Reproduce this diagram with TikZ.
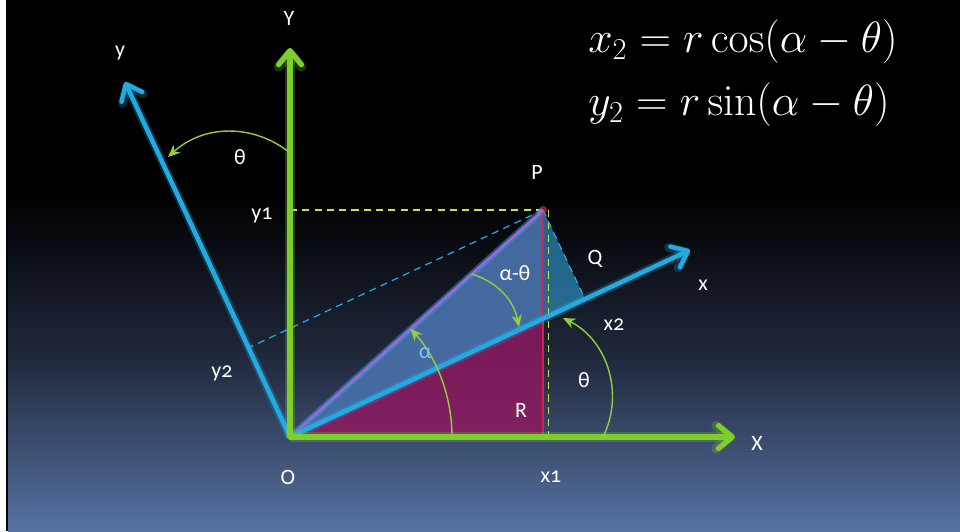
\documentclass[tikz,border=0pt]{standalone}
\usepackage{amsmath}
\usepackage[no-math]{fontspec}
\setmainfont{Carlito}[Numbers=OldStyle]
\usetikzlibrary{positioning,arrows.meta}

\definecolor{axgreen}{RGB}{125,205,45}
\definecolor{axblue}{RGB}{35,170,225}
\definecolor{arcgreen}{RGB}{150,205,60}
\definecolor{dashyel}{RGB}{205,225,70}
\definecolor{triMag}{RGB}{140,25,95}
\definecolor{triBlue}{RGB}{45,140,190}
\definecolor{edgered}{RGB}{215,30,85}
\definecolor{oppurple}{RGB}{175,95,215}
\definecolor{alphablue}{RGB}{130,195,235}
\definecolor{bgmid}{RGB}{30,38,56}
\definecolor{bgbot}{RGB}{86,114,162}

\begin{document}
\begin{tikzpicture}[x=0.02cm, y=0.02cm,
    asse/.style={line width=3pt, line cap=round, -{Straight Barb[length=8pt,width=13pt,round]}},
    assefisso/.style={asse, draw=axgreen, preaction={draw=axgreen, opacity=0.25, line width=5.5pt}},
    asseruot/.style={asse, draw=axblue, line width=2.6pt, preaction={draw=axblue, opacity=0.25, line width=5pt}},
    proj/.style={dashed, line width=0.7pt, dash pattern=on 4pt off 3pt},
    angolo/.style={draw=arcgreen, line width=0.8pt, -{Stealth[length=7pt,width=6pt]}},
    lab/.style={text=white, font=\fontsize{12.5}{14}\selectfont, inner sep=1pt},
    eq/.style={text=white, anchor=west, font=\fontsize{23}{27}\selectfont, inner sep=0pt}]

    % sfondo
    \useasboundingbox (0,-531) rectangle (960,0);
    \fill[white] (0,-531) rectangle (6,0);
    \fill[black] (6,-531) rectangle (960,0);
    \shade[top color=black, bottom color=bgmid] (8,-350) rectangle (960,-195);
    \shade[top color=bgmid, bottom color=bgbot] (8,-531) rectangle (960,-350);

    \coordinate (O) at (290,-437);
    \coordinate (Xt) at (735,-437);
    \coordinate (Yt) at (290,-48);
    \coordinate (xt) at (690,-250);
    \coordinate (yt) at (125,-82);
    \coordinate (P) at (543,-210);
    \coordinate (Q) at (585,-299);
    \coordinate (F) at (543,-437);
    \coordinate (Y1) at (290,-210);
    \coordinate (Y2) at (248,-348);

    % triangoli
    \fill[triMag, opacity=0.85] (O) -- (F) -- (P) -- cycle;
    \fill[triBlue, opacity=0.7] (O) -- (Q) -- (P) -- cycle;

    % proiezioni
    \draw[proj, dashyel] (Y1) -- (P);
    \draw[proj, dashyel] ([xshift=3]P) -- ([xshift=3]F);
    \draw[proj, axblue] (P) -- (Y2);
    \draw[proj, axblue] (P) -- (Q);

    \draw[edgered, line width=1.2pt] (O) -- (F) -- (P);
    \fill[edgered, opacity=0.7] (P) circle (4);
    \draw[oppurple, line width=1.3pt, preaction={draw=axblue, opacity=0.5, line width=3.5pt}] (O) -- (P);

    % assi
    \draw[asseruot] (O) -- (xt);
    \draw[asseruot] (O) -- (yt);
    \draw[assefisso] (O) -- (Xt);
    \draw[assefisso] (O) -- (Yt);

    % angoli
    \coordinate (tA) at (289,-152);
    \coordinate (tB) at (168,-157);
    \coordinate (dA) at (472,-274);
    \coordinate (dB) at (519,-327);
    \coordinate (rA) at (603,-437);
    \coordinate (rB) at (563,-318);
    \draw[angolo] (tA) to[bend right=40] (tB);
    \draw[angolo] (dA) to[bend left=30] (dB);
    \draw[angolo] (rA) to[bend right=45] (rB);
    \draw[angolo] ([shift={(0:162)}]O) arc[start angle=0, end angle=42, radius=162];

    % etichette
    \node[lab] (lY) at (289,-18) {Y};
    \node[lab] (ly) at (120,-53) {y};
    \node[lab] (lX) at (757,-443) {X};
    \node[lab] (lx) at (703,-285) {x};
    \node[lab] (lO) at (288,-477) {O};
    \node[lab] (lP) at (537,-172) {P};
    \node[lab] (lQ) at (595,-259) {Q};
    \node[lab] (lR) at (521,-410) {R};
    \node[lab] (ly1) at (262,-215) {y1};
    \node[lab] (ly2) at (222,-373) {y2};
    \node[lab] (lx1) at (551,-477) {x1};
    \node[lab] (lx2) at (614,-325) {x2};
    \node[lab] (lt1) at (240,-157) {θ};
    \node[lab] (lt2) at (584,-380) {θ};
    \node[lab] (lat) at (515,-273) {α-θ};
    \node[lab, text=alphablue] (la) at (425,-353) {α};

    \node[eq] (eq1) at (588,-42) {$x_2 = r\cos(\alpha-\theta)$};
    \node[eq] (eq2) at (588,-105) {$y_2 = r\sin(\alpha-\theta)$};
\end{tikzpicture}
\end{document}
